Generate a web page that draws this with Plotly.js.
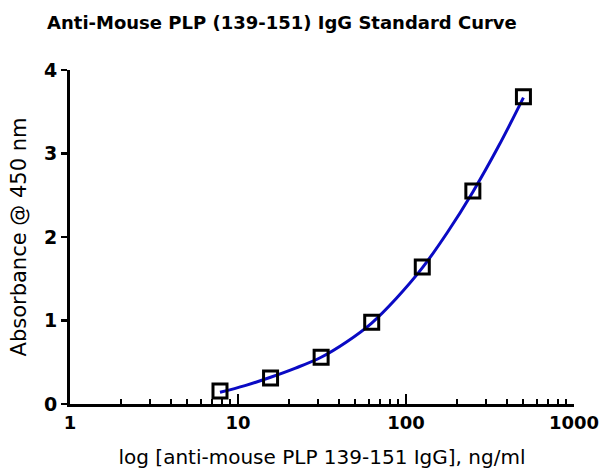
<!DOCTYPE html>
<html>
<head>
<meta charset="utf-8">
<script src="https://cdn.plot.ly/plotly-3.0.1.min.js"></script>
<style>html,body{margin:0;padding:0;background:#fff}#chart{width:605px;height:469px}</style>
</head>
<body>
<div id="chart"></div>
<script>
// Concentrations (ng/ml) and measured absorbance at 450 nm
const concentrations = [7.8125, 15.625, 31.25, 62.5, 125, 250, 500];
const absorbance = [0.156, 0.31, 0.56, 0.98, 1.64, 2.55, 3.68];
// Fitted standard curve
const curveX = [7.8125, 11, 15.625, 22, 31.25, 44, 62.5, 88, 125, 177, 250, 354, 500];
const curveY = [0.14, 0.22, 0.32, 0.43, 0.56, 0.74, 0.97, 1.27, 1.63, 2.06, 2.54, 3.08, 3.67];
const xTickVals = [1, 10, 100, 1000];
const xTickText = ['1', '10', '100', '1000'];
const yTickVals = [0, 1, 2, 3, 4];

const font = 'DejaVu Sans, Liberation Sans, Arial, sans-serif';

const traces = [
  {
    x: curveX, y: curveY, type: 'scatter', mode: 'lines',
    line: {color: '#0a0ac4', width: 3, shape: 'spline'},
    hoverinfo: 'skip', showlegend: false
  },
  {
    x: concentrations, y: absorbance, type: 'scatter', mode: 'markers',
    marker: {symbol: 'square-open', size: 14, color: '#000', line: {width: 3, color: '#000'}},
    showlegend: false
  }
];

const layout = {
  width: 605, height: 469,
  margin: {l: 70, r: 31, t: 70, b: 65},
  paper_bgcolor: '#fff', plot_bgcolor: '#fff',
  showlegend: false,
  title: {
    text: 'Anti-Mouse PLP (139-151) IgG Standard Curve',
    font: {family: font, size: 18, weight: 'bold', color: '#000'},
    xref: 'container', x: 0.466, xanchor: 'center',
    yref: 'container', y: 0.951, yanchor: 'middle'
  },
  xaxis: {
    type: 'log', range: [0, 3],
    tickvals: xTickVals, ticktext: xTickText,
    ticks: 'inside', ticklen: 10, tickwidth: 2.5, tickcolor: '#000',
    minor: {ticks: 'inside', ticklen: 5, tickwidth: 2, tickcolor: '#000', dtick: 'D1', showgrid: false},
    showline: true, linewidth: 3, linecolor: '#000',
    showgrid: false, zeroline: false,
    tickfont: {family: font, size: 18, weight: 'bold', color: '#000'},
    title: {text: 'log [anti-mouse PLP 139-151 IgG], ng/ml', font: {family: font, size: 20, color: '#000'}, standoff: 19},
    automargin: false
  },
  yaxis: {
    range: [0, 4], tickvals: yTickVals,
    ticks: 'outside', ticklen: 6, tickwidth: 2.5, tickcolor: '#000',
    showline: true, linewidth: 3, linecolor: '#000',
    showgrid: false, zeroline: false,
    tickfont: {family: font, size: 19, weight: 'bold', color: '#000'},
    title: {text: 'Absorbance @ 450 nm', font: {family: font, size: 21, color: '#000'}, standoff: 12},
    automargin: false
  }
};

Plotly.newPlot('chart', traces, layout, {displayModeBar: false, staticPlot: true});
</script>
</body>
</html>
